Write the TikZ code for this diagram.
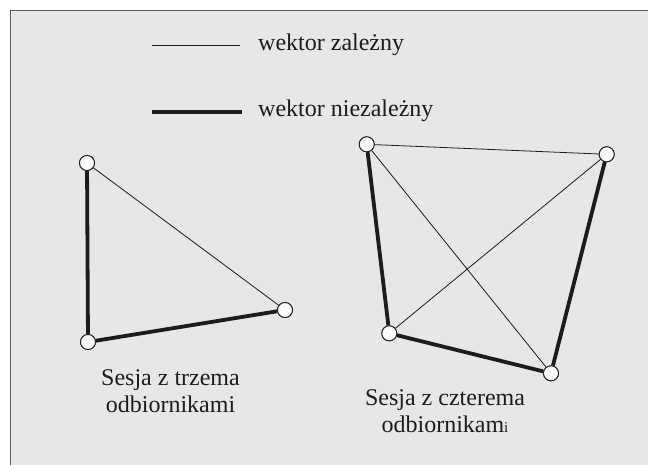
\documentclass[tikz,border=0pt]{standalone}
\usepackage{fontspec}
\setmainfont{Liberation Serif}
\definecolor{panel}{HTML}{E6E7E9}
\definecolor{frame}{HTML}{5A5A5C}
\definecolor{ink}{HTML}{1E1B1B}
\begin{document}
\begin{tikzpicture}[x=1pt,y=-1pt,
  recv/.style={circle,draw=ink,line width=0.9pt,fill=white,minimum size=15pt,inner sep=0pt},
  dep/.style={draw=ink,line width=0.8pt},
  indep/.style={draw=ink,line width=3.8pt},
  lbl/.style={inner sep=0pt,font=\fontsize{24}{27}\selectfont,text=ink}]
\useasboundingbox (0,0) rectangle (648,464);
\fill[white] (0,0) rectangle (648,464);
\fill[panel] (10.5,10.5) rectangle (660,480);
\draw[frame,line width=1.6pt] (10.5,480) -- (10.5,10.5) -- (660,10.5);
% legend
\coordinate (l1a) at (152,45);
\coordinate (l1b) at (240,45);
\coordinate (l2a) at (152,112);
\coordinate (l2b) at (242,112);
\draw[dep] (l1a) -- (l1b);
\draw[indep] (l2a) -- (l2b);
\node[lbl,anchor=base west] (t1) at (258,50.7) {wektor zależny};
\node[lbl,anchor=base west] (t2) at (258,116.7) {wektor niezależny};
% three receivers
\node[recv] (a) at (87,163) {};
\node[recv] (b) at (88,342) {};
\node[recv] (c) at (285,310) {};
\draw[dep] (a) -- (c);
\draw[indep] (a) -- (b);
\draw[indep] (b) -- (c);
% four receivers
\node[recv] (p) at (366.7,144.3) {};
\node[recv] (q) at (606.7,154.3) {};
\node[recv] (r) at (389.3,333.3) {};
\node[recv] (s) at (551,373.3) {};
\draw[dep] (p) -- (q);
\draw[dep] (p) -- (s);
\draw[dep] (q) -- (r);
\draw[indep] (p) -- (r);
\draw[indep] (r) -- (s);
\draw[indep] (q) -- (s);
\node[recv] at (p) {};
\node[recv] at (q) {};
\node[recv] at (r) {};
\node[recv] at (s) {};
\node[recv] at (a) {};
\node[recv] at (b) {};
\node[recv] at (c) {};
% captions
\node[lbl,align=center,anchor=base] (cap3) at (170.5,412) {Sesja z trzema\\odbiornikami};
\node[lbl,align=center,anchor=base] (cap4) at (445,432) {Sesja z czterema\\odbiornikam{\fontsize{15}{15}\selectfont i}};
\end{tikzpicture}
\end{document}
